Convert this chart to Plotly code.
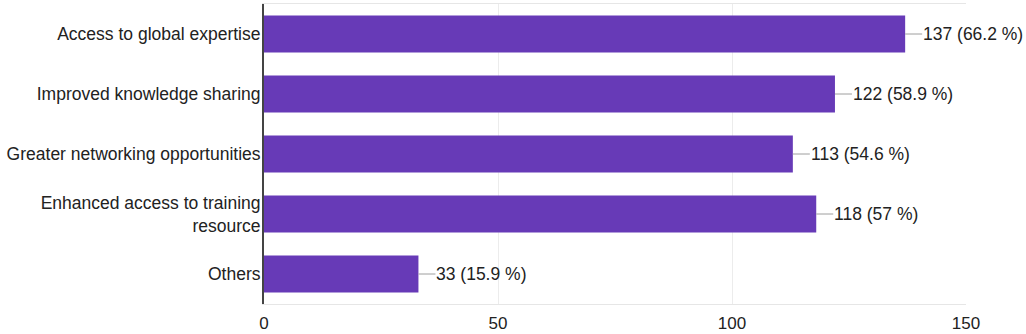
import plotly.graph_objects as go

categories = [
    "Access to global expertise",
    "Improved knowledge sharing",
    "Greater networking opportunities",
    "Enhanced access to training<br>resource",
    "Others",
]
counts = [137, 122, 113, 118, 33]
percents = ["66.2", "58.9", "54.6", "57", "15.9"]
x_ticks = [0, 50, 100, 150]

BAR = "#673ab7"
TXT = "#222222"
FONT = "Liberation Sans, Arial, sans-serif"

fig = go.Figure()
fig.add_trace(go.Bar(
    x=counts, y=categories, orientation="h",
    marker=dict(color=BAR, line=dict(width=0)),
    width=0.62, hoverinfo="skip",
))

for c, n, p in zip(categories, counts, percents):
    fig.add_annotation(
        x=n, y=c, xref="x", yref="y",
        text=f"{n} ({p} %)",
        showarrow=True, arrowhead=0, arrowwidth=1, arrowcolor="#9e9e9e",
        ax=17, ay=0, xanchor="left", borderpad=0,
        font=dict(family=FONT, size=17.5, color=TXT),
    )

fig.update_layout(
    width=1026, height=334,
    margin=dict(l=264, r=60, t=4, b=30, autoexpand=False),
    paper_bgcolor="white", plot_bgcolor="white",
    showlegend=False,
    font=dict(family=FONT, size=17, color=TXT),
    bargap=0.38,
)
fig.update_xaxes(
    range=[0, 150], tickvals=x_ticks, ticktext=[str(t) for t in x_ticks],
    showgrid=True, gridcolor="#ececec", gridwidth=1,
    zeroline=False, showline=True, linecolor="#e6e6e6", mirror=True,
    ticks="", ticklabelstandoff=4,
    tickfont=dict(family=FONT, size=17, color=TXT),
    automargin=False, fixedrange=True,
)
fig.update_yaxes(
    categoryorder="array", categoryarray=categories[::-1],
    showgrid=False, zeroline=False,
    showline=True, linecolor="#444444", linewidth=2,
    ticks="", ticklabelstandoff=-2,
    tickfont=dict(family=FONT, size=17.5, color=TXT),
    automargin=False, fixedrange=True,
)

fig.write_html(
    "out.html",
    config={"displayModeBar": False},
    post_script="document.body.style.margin='0';document.body.style.overflow='hidden';",
)
